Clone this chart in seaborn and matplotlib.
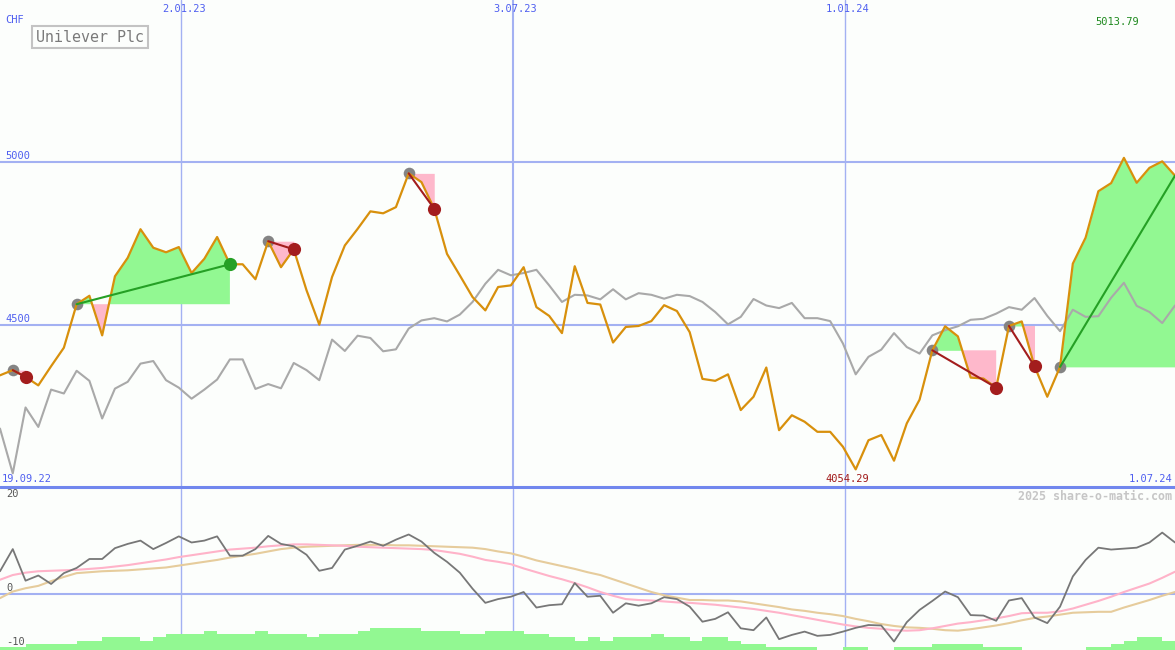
import numpy as np
import pandas as pd
import matplotlib
matplotlib.use("Agg")
import matplotlib.pyplot as plt
import seaborn as sns

# ── DATOS (semanal) ──────────────────────────────────────────────────────────
START = "2022-09-25"
N_WEEKS = 93

price = [4344, 4360, 4339, 4313, 4372, 4429, 4563, 4589, 4467, 4649,
         4706, 4794, 4737, 4723, 4739, 4659, 4703, 4770, 4686, 4686,
         4640, 4757, 4677, 4732, 4606, 4500, 4647, 4744, 4795, 4849,
         4843, 4862, 4966, 4939, 4857, 4718, 4652, 4585, 4544, 4616,
         4621, 4677, 4554, 4527, 4474, 4680, 4567, 4562, 4445, 4493,
         4496, 4511, 4560, 4542, 4477, 4333, 4327, 4347, 4237, 4278,
         4368, 4175, 4221, 4201, 4170, 4170, 4124, 4054.29, 4144, 4160,
         4081, 4196, 4269, 4421, 4495, 4464, 4337, 4334, 4306, 4496,
         4510, 4372, 4278, 4370, 4688, 4768, 4911, 4936, 5013.79, 4937,
         4983, 5003, 4959]

benchmark = [4180, 4042, 4245, 4185, 4300, 4288, 4358, 4327, 4211, 4303,
             4324, 4380, 4388, 4329, 4306, 4272, 4300, 4331, 4393, 4393,
             4302, 4317, 4304, 4382, 4360, 4329, 4454, 4419, 4466, 4459,
             4418, 4424, 4488, 4513, 4520, 4510, 4531, 4570, 4626, 4669,
             4652, 4659, 4669, 4621, 4570, 4592, 4590, 4578, 4609, 4578,
             4597, 4592, 4580, 4592, 4588, 4570, 4539, 4501, 4524, 4579,
             4559, 4551, 4567, 4520, 4520, 4511, 4442, 4347, 4401, 4423,
             4474, 4431, 4411, 4467, 4483, 4495, 4515, 4518, 4534, 4554,
             4546, 4582, 4527, 4480, 4546, 4524, 4526, 4583, 4629, 4558,
             4539, 4505, 4559]

osc = [4.9, 9.6, 2.9, 4.0, 2.2, 4.5, 5.6, 7.5, 7.5, 9.8,
       10.7, 11.4, 9.6, 10.9, 12.3, 11.0, 11.4, 12.3, 8.2, 8.2,
       9.6, 12.4, 10.7, 10.2, 8.4, 5.0, 5.6, 9.5, 10.3, 11.2,
       10.3, 11.6, 12.7, 11.2, 8.8, 6.9, 4.6, 1.2, -1.8, -1.0,
       -0.5, 0.5, -2.8, -2.3, -2.1, 2.4, -0.5, -0.3, -3.9, -1.9,
       -2.4, -1.9, -0.6, -1.0, -2.6, -5.8, -5.2, -3.8, -7.2, -7.6,
       -4.9, -9.5, -8.6, -7.9, -8.8, -8.6, -7.9, -7.1, -6.5, -6.6,
       -10.0, -5.9, -3.3, -1.4, 0.6, -0.6, -4.4, -4.5, -5.6, -1.3,
       -0.8, -4.9, -6.1, -2.6, 3.8, 7.3, 9.9, 9.5, 9.7, 9.9,
       11.0, 13.1, 11.0]

osc_fast = [3.1, 4.1, 4.6, 4.9, 5.0, 5.1, 5.2, 5.4, 5.6, 5.9,
            6.2, 6.6, 7.0, 7.4, 7.9, 8.3, 8.7, 9.1, 9.5, 9.7,
            9.9, 10.2, 10.4, 10.6, 10.6, 10.5, 10.4, 10.3, 10.1, 10.0,
            9.9, 9.8, 9.7, 9.6, 9.4, 9.0, 8.6, 8.0, 7.3, 6.9,
            6.4, 5.5, 4.7, 3.9, 3.2, 2.4, 1.5, 0.5, -0.3, -1.0,
            -1.2, -1.3, -1.5, -1.7, -1.8, -2.0, -2.2, -2.5, -2.8, -3.1,
            -3.5, -3.9, -4.4, -4.9, -5.4, -5.9, -6.4, -6.8, -7.1, -7.3,
            -7.6, -7.7, -7.6, -7.2, -6.7, -6.2, -5.9, -5.5, -5.1, -4.6,
            -4.0, -3.9, -3.9, -3.6, -3.0, -2.2, -1.4, -0.5, 0.5, 1.4,
            2.3, 3.5, 4.8]

osc_slow = [-0.8, 0.6, 1.3, 1.8, 2.8, 3.7, 4.5, 4.7, 4.9, 5.0,
            5.1, 5.3, 5.5, 5.7, 6.1, 6.5, 6.9, 7.3, 7.8, 8.2,
            8.6, 9.1, 9.6, 9.9, 10.1, 10.2, 10.3, 10.4, 10.5, 10.5,
            10.5, 10.4, 10.4, 10.3, 10.2, 10.1, 10.0, 9.9, 9.6, 9.1,
            8.7, 8.0, 7.2, 6.6, 6.0, 5.4, 4.7, 4.1, 3.2, 2.3,
            1.4, 0.5, -0.2, -0.7, -1.2, -1.2, -1.3, -1.3, -1.5, -1.9,
            -2.3, -2.7, -3.2, -3.5, -3.9, -4.2, -4.6, -5.2, -5.7, -6.3,
            -6.7, -7.0, -7.1, -7.3, -7.6, -7.7, -7.4, -7.0, -6.6, -6.1,
            -5.5, -5.0, -4.7, -4.3, -3.9, -3.8, -3.7, -3.7, -2.8, -2.0,
            -1.2, -0.3, 0.5]

volume_level = [1, 1, 2, 2, 2, 2, 3, 3, 4, 4,
                4, 3, 4, 5, 5, 5, 6, 5, 5, 5,
                6, 5, 5, 5, 4, 5, 5, 5, 6, 7,
                7, 7, 7, 6, 6, 6, 5, 5, 6, 6,
                6, 5, 5, 4, 4, 3, 4, 3, 4, 4,
                4, 5, 4, 4, 3, 4, 4, 3, 2, 2,
                1, 1, 1, 1, 0, 0, 1, 1, 0, 0,
                1, 1, 1, 2, 2, 2, 2, 1, 1, 1,
                0, 0, 0, 0, 0, 1, 1, 2, 3, 4,
                4, 3, 3]

# señales: (semana inicio, semana fin, resultado)
trades = [(1, 2, "loss"), (6, 18, "win"), (21, 23, "loss"), (32, 34, "loss"),
          (73, 78, "loss"), (79, 81, "loss"), (83, 92, "open")]

grid_dates = ["2023-01-02", "2023-07-03", "2024-01-01"]
grid_labels = ["2.01.23", "3.07.23", "1.01.24"]
price_levels = [5000, 4500]
osc_levels = [20, 0, -10]

# ── ESTILO ───────────────────────────────────────────────────────────────────
BG = "#fcfefc"
GRID = "#a3b1f2"
SEP = "#7187ee"
LBL = "#4f5ff0"
ORANGE = "#d8900c"
BENCH = "#a9a9a9"
UP = "#92f892"
DOWN = "#feb8cb"
DOT_GRAY = "#848484"
DOT_RED = "#a31d1d"
DOT_GREEN = "#25a025"

sns.set_theme(style="white")
plt.rcParams["font.family"] = ["DejaVu Sans Mono"]

dates = pd.date_range(START, periods=N_WEEKS, freq="7D")
px = dict(textcoords="offset pixels")

fig = plt.figure(figsize=(11.75, 6.5), dpi=100, facecolor=BG)
ax = fig.add_axes([0, 163 / 650, 1, 487 / 650])
ax2 = fig.add_axes([0, 0, 1, 161.5 / 650])
for a in (ax, ax2):
    a.set_facecolor(BG)
    a.axis("off")
    a.set_xlim(dates[0], dates[-1])

ax.set_ylim(4000, 5500)
ax2.set_ylim(-11.8, 22.45)

# ── PANEL PRINCIPAL ──────────────────────────────────────────────────────────
for lv in price_levels:
    ax.axhline(lv, color=GRID, lw=1.5, zorder=0)
for d, w in zip(grid_dates, [1.0, 1.5, 1.0]):
    ax.axvline(pd.Timestamp(d), color=GRID, lw=w, zorder=0, snap=True)
    ax2.axvline(pd.Timestamp(d), color=GRID, lw=1.0, zorder=0, snap=True)
ax.axhline(4000, color=SEP, lw=2.2, clip_on=False, zorder=5)

p = np.array(price, dtype=float)
for s, e, kind in trades:
    xs = dates[s:e + 1]
    ps = p[s:e + 1]
    ax.fill_between(xs, p[s], ps, where=ps >= p[s], interpolate=True, color=UP, lw=0, zorder=1)
    ax.fill_between(xs, p[s], ps, where=ps <= p[s], interpolate=True, color=DOWN, lw=0, zorder=1)

sns.lineplot(x=dates, y=benchmark, ax=ax, color=BENCH, linewidth=1.5, sort=False, zorder=2)

for s, e, kind in trades:
    ax.scatter(dates[s], p[s], s=70, color=DOT_GRAY, lw=0, zorder=3)

sns.lineplot(x=dates, y=price, ax=ax, color=ORANGE, linewidth=1.6, sort=False, zorder=4)

for s, e, kind in trades:
    lc = DOT_RED if kind == "loss" else DOT_GREEN
    ax.plot([dates[s], dates[e]], [p[s], p[e]], color=lc, lw=1.5, zorder=5)
    if kind != "open":
        ax.scatter(dates[e], p[e], s=90, color=lc, lw=0, zorder=6)

# textos del panel principal
FS = 7.5
for lv in price_levels:
    ax.annotate(str(lv), xy=(0, lv), xycoords=("axes fraction", "data"), xytext=(5, 1),
                ha="left", va="bottom", fontsize=FS, color=LBL, **px)
for d, lab in zip(grid_dates, grid_labels):
    ax.annotate(lab, xy=(pd.Timestamp(d), 1), xycoords=("data", "axes fraction"), xytext=(3, -9),
                ha="center", va="center", fontsize=FS, color=LBL, **px)
ax.annotate("CHF", xy=(0, 1), xycoords="axes fraction", xytext=(5, -20),
            ha="left", va="center", fontsize=FS, color=LBL, **px)
ax.annotate("19.09.22", xy=(0, 0), xycoords="axes fraction", xytext=(2, 8),
            ha="left", va="center", fontsize=FS, color=LBL, **px)
ax.annotate("1.07.24", xy=(1, 0), xycoords="axes fraction", xytext=(-3, 8),
            ha="right", va="center", fontsize=FS, color=LBL, **px)

imax, imin = int(np.argmax(p)), int(np.argmin(p))
ax.annotate(f"{p[imax]:.2f}", xy=(dates[imax], 1), xycoords=("data", "axes fraction"), xytext=(-7, -22),
            ha="center", va="center", fontsize=FS, color="#1f8a1f", **px)
ax.annotate(f"{p[imin]:.2f}", xy=(dates[imin], 0), xycoords=("data", "axes fraction"), xytext=(-8, 8),
            ha="center", va="center", fontsize=FS, color="#a01818", **px)

ax.annotate("Unilever Plc", xy=(0, 1), xycoords="axes fraction", xytext=(90, -37),
            ha="center", va="center", fontsize=10.8, color="#7a7a7a", **px,
            bbox=dict(boxstyle="square,pad=0.25", fc="none", ec="#c3c3c3", lw=1.5))

# ── PANEL INFERIOR ───────────────────────────────────────────────────────────
ax2.axhline(0, color=GRID, lw=1.5, zorder=0)
ylo = ax2.get_ylim()[0]
ax2.bar(dates, np.array(volume_level) * 0.67, width=7, align="edge", bottom=ylo,
        color=UP, lw=0, zorder=1)
sns.lineplot(x=dates, y=osc_slow, ax=ax2, color="#e6cc9c", linewidth=1.5, sort=False, zorder=2)
sns.lineplot(x=dates, y=osc_fast, ax=ax2, color="#ffb3c9", linewidth=1.5, sort=False, zorder=3)
sns.lineplot(x=dates, y=osc, ax=ax2, color="#777777", linewidth=1.3, sort=False, zorder=4)

for lv in osc_levels:
    dy, va = (1, "bottom") if lv != -10 else (0, "center")
    ax2.annotate(str(lv), xy=(0, lv), xycoords=("axes fraction", "data"), xytext=(6, dy),
                 ha="left", va=va, fontsize=FS, color="#555555", **px)

fig.text(1172 / 1175, 1 - 496 / 650, "2025 share-o-matic.com", ha="right", va="center",
         fontsize=8.4, fontweight="bold", color="#c6c6c6")

fig.savefig("out.png", dpi=100, facecolor=BG)
